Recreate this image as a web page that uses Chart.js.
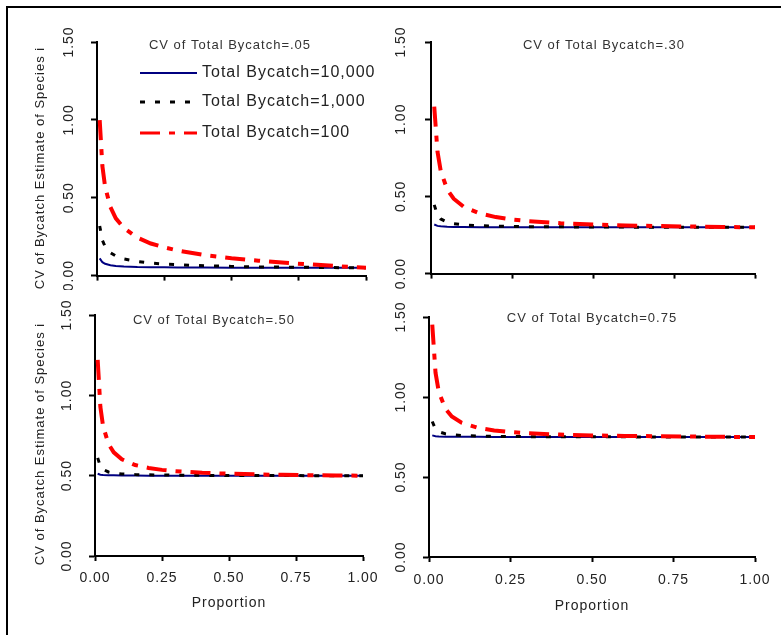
<!DOCTYPE html>
<html>
<head>
<meta charset="utf-8">
<script src="https://cdn.jsdelivr.net/npm/chart.js@4.4.1/dist/chart.umd.min.js"></script>
<style>
  body { margin: 0; background: #fff; }
  #page { position: relative; width: 781px; height: 635px; overflow: hidden; }
  #frame { position: absolute; left: 6px; top: 6px; width: 800px; height: 700px;
           border-left: 2px solid #000; border-top: 2px solid #000; }
  canvas { position: absolute; }
</style>
</head>
<body>
<div id="page">
  <div id="frame"></div>
  <canvas id="cv05" width="390" height="290" style="left:0;top:0"></canvas>
  <canvas id="cv30" width="391" height="290" style="left:390px;top:0"></canvas>
  <canvas id="cv50" width="390" height="345" style="left:0;top:290px"></canvas>
  <canvas id="cv75" width="391" height="345" style="left:390px;top:290px"></canvas>
</div>
<script>
// proportion of the catch that is species i
const proportion = [0.01, 0.02, 0.03, 0.05, 0.07, 0.10, 0.15, 0.20, 0.25, 0.30, 0.40, 0.50, 0.60, 0.70, 0.80, 0.90, 1.00];
const yTicks = [0, 0.5, 1.0, 1.5];
const xTicks = [0, 0.25, 0.5, 0.75, 1.0];
const seriesNames = ['Total Bycatch=10,000', 'Total Bycatch=1,000', 'Total Bycatch=100'];

// CV of total bycatch = .05
const cv05_n10000 = [0.111, 0.086, 0.076, 0.066, 0.062, 0.058, 0.055, 0.054, 0.053, 0.052, 0.052, 0.051, 0.051, 0.050, 0.050, 0.050, 0.050];
const cv05_n1000  = [0.319, 0.227, 0.187, 0.147, 0.126, 0.107, 0.091, 0.081, 0.074, 0.070, 0.063, 0.059, 0.056, 0.054, 0.053, 0.051, 0.050];
const cv05_n100   = [0.998, 0.703, 0.572, 0.439, 0.368, 0.305, 0.244, 0.206, 0.181, 0.161, 0.132, 0.112, 0.096, 0.082, 0.071, 0.060, 0.050];

// CV of total bycatch = .30
const cv30_n10000 = [0.318, 0.309, 0.306, 0.303, 0.302, 0.302, 0.301, 0.301, 0.300, 0.300, 0.300, 0.300, 0.300, 0.300, 0.300, 0.300, 0.300];
const cv30_n1000  = [0.445, 0.379, 0.354, 0.333, 0.323, 0.316, 0.310, 0.307, 0.305, 0.304, 0.303, 0.302, 0.301, 0.301, 0.300, 0.300, 0.300];
const cv30_n100   = [1.081, 0.790, 0.665, 0.545, 0.485, 0.434, 0.390, 0.366, 0.350, 0.340, 0.326, 0.318, 0.312, 0.308, 0.305, 0.302, 0.300];

// CV of total bycatch = .50
const cv50_n10000 = [0.512, 0.506, 0.504, 0.502, 0.502, 0.501, 0.501, 0.500, 0.500, 0.500, 0.500, 0.500, 0.500, 0.500, 0.500, 0.500, 0.500];
const cv50_n1000  = [0.611, 0.558, 0.539, 0.523, 0.516, 0.511, 0.507, 0.505, 0.504, 0.503, 0.502, 0.501, 0.501, 0.501, 0.500, 0.500, 0.500];
const cv50_n100   = [1.220, 0.929, 0.809, 0.698, 0.645, 0.602, 0.566, 0.548, 0.536, 0.528, 0.518, 0.512, 0.508, 0.505, 0.503, 0.501, 0.500];

// CV of total bycatch = 0.75
const cv75_n10000 = [0.760, 0.755, 0.753, 0.752, 0.751, 0.751, 0.751, 0.750, 0.750, 0.750, 0.750, 0.750, 0.750, 0.750, 0.750, 0.750, 0.750];
const cv75_n1000  = [0.847, 0.799, 0.783, 0.770, 0.764, 0.759, 0.756, 0.754, 0.753, 0.752, 0.752, 0.751, 0.751, 0.750, 0.750, 0.750, 0.750];
const cv75_n100   = [1.452, 1.152, 1.033, 0.927, 0.878, 0.839, 0.807, 0.791, 0.781, 0.774, 0.765, 0.760, 0.757, 0.755, 0.753, 0.751, 0.750];

const FONT = '"Liberation Sans", Arial, sans-serif';
const TEXT = '#222';

// the old figure has wide letter spacing everywhere
const spacing = {
  id: 'spacing',
  beforeUpdate(chart) { chart.ctx.letterSpacing = '1px'; },
  beforeDraw(chart) { chart.ctx.letterSpacing = '1px'; }
};

// panel title, y axis title and the legend of the first panel
const panelText = {
  id: 'panelText',
  afterDraw(chart, args, opts) {
    const ctx = chart.ctx;
    ctx.save();
    ctx.letterSpacing = '1px';
    ctx.fillStyle = '#333';
    ctx.font = '13px ' + FONT;
    ctx.textAlign = 'center';
    ctx.textBaseline = 'middle';
    ctx.fillText(opts.title, opts.titleX, opts.titleY);

    if (opts.yTitle) {
      ctx.save();
      ctx.translate(opts.yTitleX, opts.yTitleY);
      ctx.rotate(-Math.PI / 2);
      ctx.fillStyle = TEXT;
      ctx.fillText(opts.yTitle, 0, 0);
      ctx.restore();
    }

    if (opts.legend) {
      const rows = [73, 102, 133];
      ctx.font = '16px ' + FONT;
      ctx.textAlign = 'left';
      ctx.fillStyle = TEXT;
      chart.data.datasets.forEach((ds, i) => {
        ctx.save();
        ctx.strokeStyle = ds.borderColor;
        ctx.lineWidth = ds.legendWidth;
        ctx.setLineDash(ds.borderDash || []);
        ctx.beginPath();
        ctx.moveTo(140, rows[i]);
        ctx.lineTo(197, rows[i]);
        ctx.stroke();
        ctx.restore();
        ctx.fillText(ds.label, 202, rows[i]);
      });
    }
    ctx.restore();
  }
};

function pts(values) {
  return proportion.map((p, i) => ({ x: p, y: values[i] }));
}

function makeChart(id, title, big, mid, small, box) {
  const ctx = document.getElementById(id).getContext('2d');
  new Chart(ctx, {
    type: 'line',
    data: {
      datasets: [
        { label: seriesNames[0], data: pts(big), borderColor: '#000080', borderWidth: 2, legendWidth: 2, order: 2 },
        { label: seriesNames[1], data: pts(mid), borderColor: '#000000', borderWidth: 3, legendWidth: 3,
          borderDash: [5, 10], order: 1 },
        { label: seriesNames[2], data: pts(small), borderColor: '#ff0000', borderWidth: 4, legendWidth: 3,
          borderDash: [20, 9, 6, 9], order: 0 }
      ]
    },
    options: {
      responsive: false,
      animation: false,
      events: [],
      elements: { point: { radius: 0 }, line: { tension: 0, borderCapStyle: 'butt' } },
      layout: { padding: { left: 0, top: box.top, right: box.right, bottom: 0 } },
      plugins: {
        legend: { display: false },
        tooltip: { enabled: false },
        panelText: {
          title: title, titleX: box.titleX, titleY: box.titleY,
          yTitle: box.yTitle ? 'CV of Bycatch Estimate of Species i' : null,
          yTitleX: 40, yTitleY: box.yTitleY,
          legend: !!box.legend
        }
      },
      scales: {
        x: {
          type: 'linear', min: 0, max: 1,
          afterFit(s) { s.height = box.xHeight; },
          afterBuildTicks(s) { s.ticks = xTicks.map(v => ({ value: v })); },
          border: { display: true, color: '#000', width: 2 },
          grid: { drawOnChartArea: false, drawTicks: true, tickLength: 5, tickWidth: 2, tickColor: '#000' },
          ticks: {
            display: box.showX, padding: box.xTickPad, color: TEXT, autoSkip: false,
            maxRotation: 0, font: { size: 14, family: FONT },
            callback: v => v.toFixed(2)
          },
          title: {
            display: box.showX, text: 'Proportion', color: TEXT,
            font: { size: 14, family: FONT }, padding: { top: 0, bottom: box.xTitlePad }
          }
        },
        y: {
          type: 'linear', min: 0, max: 1.5,
          afterFit(s) { s.width = box.yWidth; },
          afterBuildTicks(s) { s.ticks = yTicks.map(v => ({ value: v })); },
          border: { display: true, color: '#000', width: 2 },
          grid: { drawOnChartArea: false, drawTicks: true, tickLength: 6, tickWidth: 2, tickColor: '#000' },
          ticks: {
            minRotation: 90, maxRotation: 90, crossAlign: 'center', autoSkip: false,
            padding: box.yTickPad, color: TEXT, font: { size: 14, family: FONT },
            callback: v => v.toFixed(2)
          }
        }
      }
    },
    plugins: [spacing, panelText]
  });
}

makeChart('cv05', 'CV of Total Bycatch=.05', cv05_n10000, cv05_n1000, cv05_n100, {
  top: 42, right: 24, yWidth: 97, xHeight: 11, showX: false,
  yTickPad: 6, titleX: 230, titleY: 45, yTitle: true, yTitleY: 168, legend: true
});
makeChart('cv30', 'CV of Total Bycatch=.30', cv30_n10000, cv30_n1000, cv30_n100, {
  top: 42, right: 26, yWidth: 41, xHeight: 11, showX: false,
  yTickPad: 8, titleX: 214, titleY: 45
});
makeChart('cv50', 'CV of Total Bycatch=.50', cv50_n10000, cv50_n1000, cv50_n100, {
  top: 25, right: 27, yWidth: 95, xHeight: 79, showX: true, xTickPad: 9, xTitlePad: 23,
  yTickPad: 6, titleX: 214, titleY: 30, yTitle: true, yTitleY: 154
});
makeChart('cv75', 'CV of Total Bycatch=0.75', cv75_n10000, cv75_n1000, cv75_n100, {
  top: 27, right: 26, yWidth: 39, xHeight: 78, showX: true, xTickPad: 10, xTitlePad: 20,
  yTickPad: 6, titleX: 202, titleY: 28
});
</script>
</body>
</html>
